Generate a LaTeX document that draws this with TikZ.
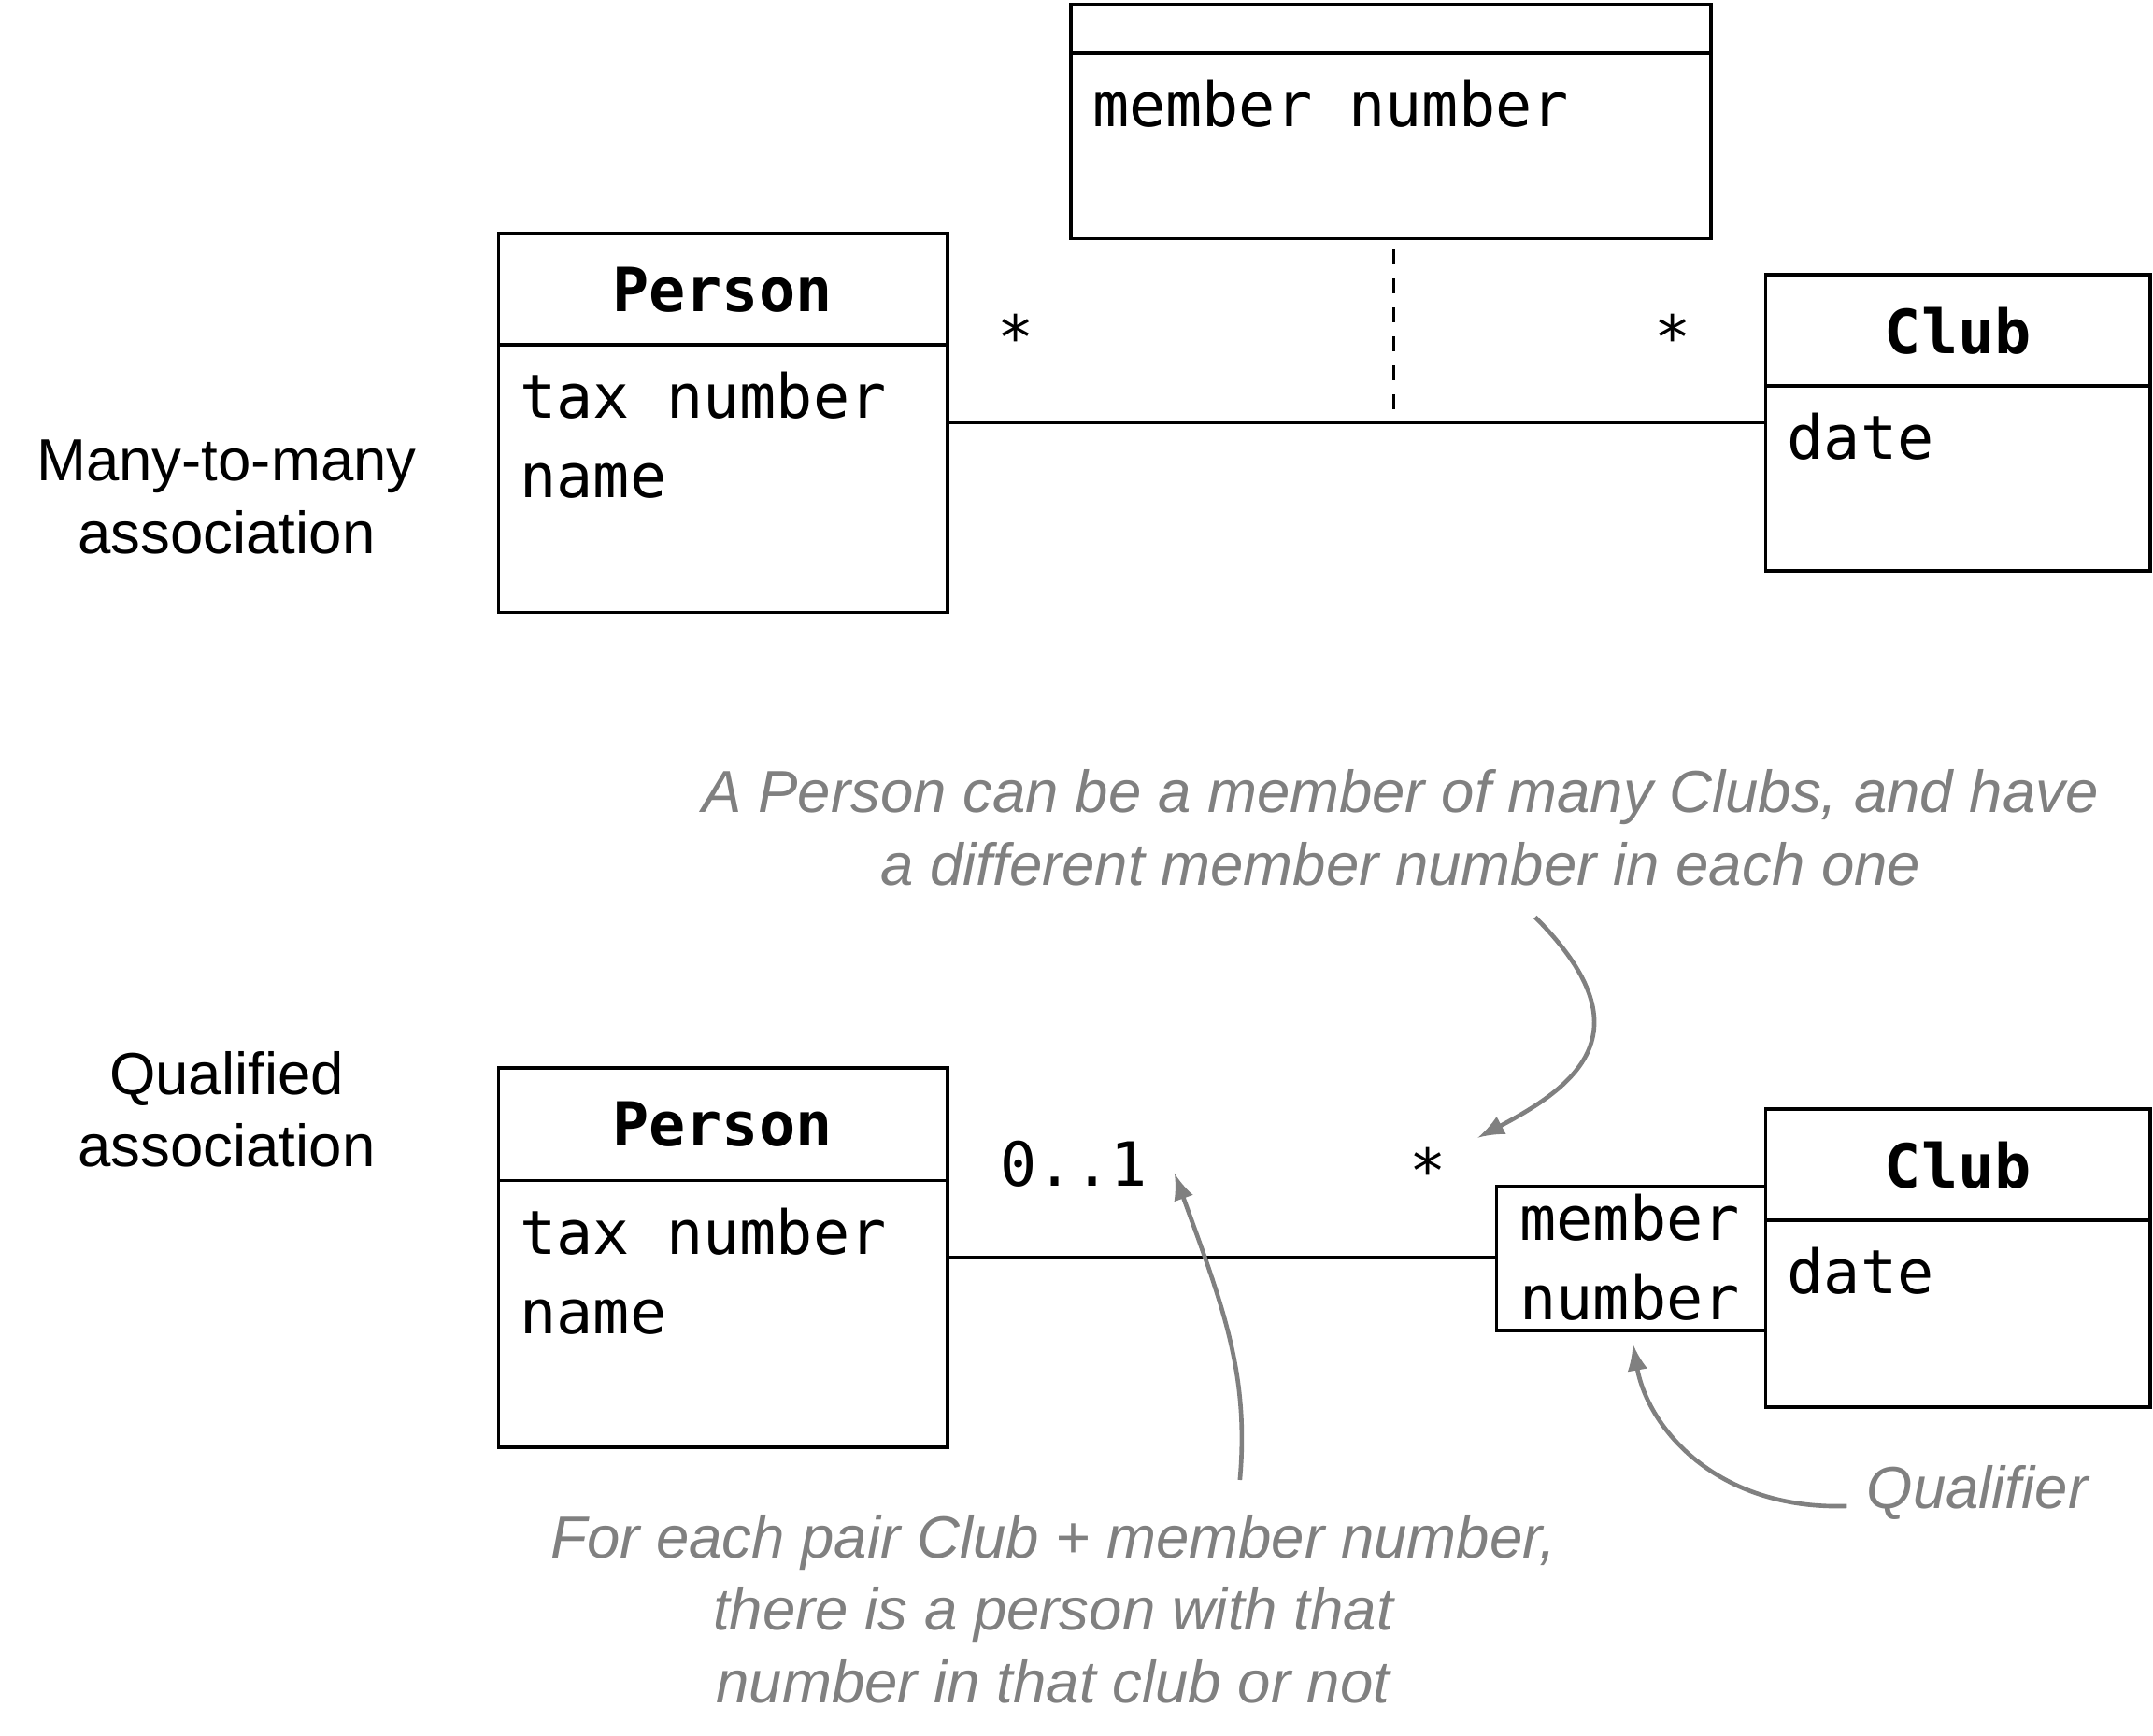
\documentclass[tikz,border=0pt]{standalone}
\usepackage{fontspec}
\setmainfont{Liberation Sans}
\setmonofont{DejaVu Sans Mono}
\usetikzlibrary{positioning}
\begin{document}
\begin{tikzpicture}[
    x=0.01cm, y=-0.01cm,
    box/.style={draw, line width=0.7pt},
    attr/.style={font=\ttfamily\fontsize{12.6}{16.5}\selectfont, anchor=north west, align=left, inner sep=0pt},
    cname/.style={font=\ttfamily\bfseries\fontsize{12.6}{15}\selectfont},
    side/.style={font=\fontsize{12.3}{15}\selectfont, align=center},
    note/.style={font=\itshape\fontsize{12.3}{15}\selectfont, text=gray, align=center},
    notearrow/.style={->, >=latex, gray, line width=0.9pt, shorten >=2pt}
]
    \useasboundingbox (0,0) rectangle (1568,1264);

    % many-to-many
    \draw[box] (780,3) rectangle (1246,174);
    \draw[box] (780,39) -- (1246,39);
    \node[attr] (mnum) at (795,58) {member number};
    \coordinate (acls) at (1015,182);

    \draw[box] (363,170) rectangle (690,446);
    \draw[box] (363,251) -- (690,251);
    \node[cname] (personA) at (526,211) {Person};
    \node[attr] (attrA) at (378,270) {tax number\\name};

    \draw[box] (1286,200) rectangle (1566,416);
    \draw[box] (1286,281) -- (1566,281);
    \node[cname] (clubA) at (1426,241) {Club};
    \node[attr] (dateA) at (1301,300) {date};

    \coordinate (lA) at (690,308);
    \coordinate (rA) at (1286,308);
    \coordinate (mA) at (1015,308);
    \draw[line width=0.7pt] (lA) -- (rA);
    \draw[line width=0.7pt, dashed] (acls) -- (mA);
    \node[attr, anchor=center] (starA1) at (740,245) {*};
    \node[attr, anchor=center] (starA2) at (1218,245) {*};
    \node[side] (mtm) at (165,362) {Many-to-many\\association};

    % qualified
    \draw[box] (363,778) rectangle (690,1054);
    \draw[box] (363,860) -- (690,860);
    \node[cname] (personB) at (526,819) {Person};
    \node[attr] (attrB) at (378,879) {tax number\\name};

    \draw[box] (1286,808) rectangle (1566,1025);
    \draw[box] (1286,889) -- (1566,889);
    \node[cname] (clubB) at (1426,849) {Club};
    \node[attr] (dateB) at (1301,908) {date};

    \draw[box] (1090,864) rectangle (1286,969);
    \node[attr, anchor=center, align=center] (qual) at (1187,916) {member\\number};

    \coordinate (lB) at (690,916);
    \coordinate (rB) at (1090,916);
    \draw[line width=0.7pt] (lB) -- (rB);
    \node[attr, anchor=center] (mult) at (782,848) {0..1};
    \node[attr, anchor=center] (starB) at (1040,852) {*};
    \node[side] (qa) at (165,808) {Qualified\\association};

    % notes
    \node[note] (note1) at (1020,603) {A Person can be a member of many Clubs, and have\\a different member number in each one};
    \node[note] (note2) at (767,1172) {For each pair Club + member number,\\there is a person with that\\number in that club or not};
    \node[note] (note3) at (1440,1087) {Qualifier};

    \coordinate (n1s) at (1118,668);
    \coordinate (n1e) at (1070,832);
    \coordinate (n2s) at (903,1078);
    \coordinate (n2e) at (853,848);
    \coordinate (n3s) at (1345,1097);
    \coordinate (n3e) at (1188,972);
    \draw[notearrow] (n1s) .. controls (1200,750) and (1150,790) .. (n1e);
    \draw[notearrow] (n2s) .. controls (910,1000) and (890,950) .. (n2e);
    \draw[notearrow] (n3s) .. controls (1250,1100) and (1200,1040) .. (n3e);
\end{tikzpicture}
\end{document}
